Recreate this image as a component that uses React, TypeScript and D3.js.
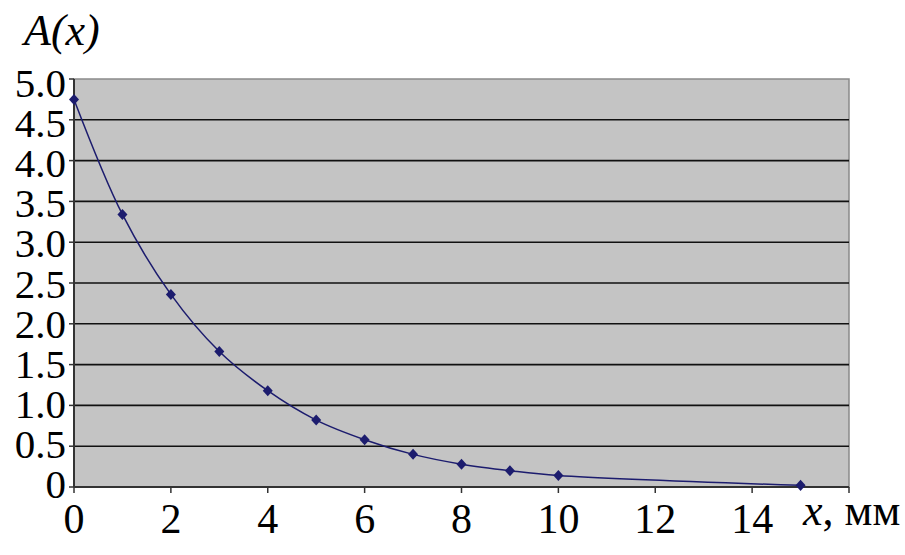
import React from "react";
import * as d3 from "d3";

const xValues = [0, 1, 2, 3, 4, 5, 6, 7, 8, 9, 10, 15];
const aValues = [4.75, 3.34, 2.36, 1.66, 1.18, 0.82, 0.58, 0.4, 0.28, 0.2, 0.14, 0.02];
const xTicks = [0, 2, 4, 6, 8, 10, 12, 14, 16];
const xTickLabels = ["0", "2", "4", "6", "8", "10", "12", "14"];
const yTicks = [0, 0.5, 1, 1.5, 2, 2.5, 3, 3.5, 4, 4.5, 5];
const yTickLabels = ["0", "0.5", "1.0", "1.5", "2.0", "2.5", "3.0", "3.5", "4.0", "4.5", "5.0"];

const W = 905, H = 555;
const L = 74, R = 849, T = 79, B = 487;
const FAM = "Liberation Serif";

export default function App() {
  const x = d3.scaleLinear().domain([0, 16]).range([L, R]);
  const y = d3.scaleLinear().domain([0, 5]).range([B, T]);
  // label baselines (labels are spaced slightly tighter than the grid)
  const yLab = d3.scaleLinear().domain([0, 5]).range([498, 97]);
  const pts: [number, number][] = xValues.map((v, i) => [x(v), y(aValues[i])]);
  const line = d3.line().curve(d3.curveCatmullRom.alpha(0.5))(pts) || "";
  const diamond = d3.symbol().type(d3.symbolDiamond2).size(64)() || "";
  return (
    <div style={{ position: "absolute", left: 0, top: 0 }}>
      <svg width={W} height={H} style={{ display: "block", fontFamily: FAM }}>
        <rect x={0} y={0} width={W} height={H} fill="#fff" />
        <rect x={L} y={T} width={R - L} height={B - T} fill="#c4c4c4" stroke="#8a8a8a" strokeWidth={1.5} />
        {yTicks.slice(1, -1).map((t) => (
          <line key={t} x1={L} x2={R} y1={y(t)} y2={y(t)} stroke="#111" strokeWidth={1.6} />
        ))}
        <line x1={L} x2={L} y1={T} y2={B} stroke="#333" strokeWidth={2} />
        <line x1={L} x2={R} y1={B} y2={B} stroke="#333" strokeWidth={2} />
        {yTicks.map((t) => (
          <line key={"yt" + t} x1={L - 5} x2={L} y1={y(t)} y2={y(t)} stroke="#333" strokeWidth={1.5} />
        ))}
        {xTicks.map((t) => (
          <line key={"xt" + t} x1={x(t)} x2={x(t)} y1={B} y2={B + 6} stroke="#333" strokeWidth={1.5} />
        ))}
        <path d={line} fill="none" stroke="#1c1c6e" strokeWidth={1.5} />
        {pts.map((p, i) => (
          <path key={i} d={diamond} transform={`translate(${p[0]},${p[1]}) scale(1,1.1)`} fill="#1c1c6e" />
        ))}
        {yTicks.map((t, i) => (
          <text key={"yl" + t} x={66} y={yLab(t)} textAnchor="end" fontFamily={FAM} fontSize={41}>
            {yTickLabels[i]}
          </text>
        ))}
        {xTickLabels.map((lab, i) => (
          <text key={"xl" + lab} x={x(xTicks[i])} y={533} textAnchor="middle" fontFamily={FAM} fontSize={42}>
            {lab}
          </text>
        ))}
        <text x={24} y={45} fontFamily={FAM} fontSize={44} fontStyle="italic">A(x)</text>
        <text x={803} y={525} fontFamily={FAM} fontSize={44}>
          <tspan fontStyle="italic">x</tspan>, мм
        </text>
      </svg>
    </div>
  );
}
